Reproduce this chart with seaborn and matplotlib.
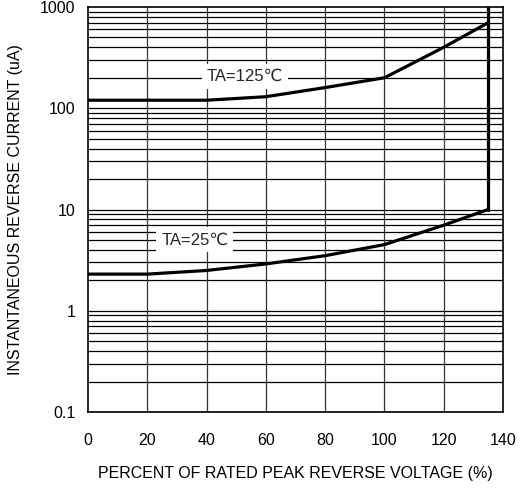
import numpy as np
import pandas as pd
import matplotlib
matplotlib.use('Agg')
import matplotlib.pyplot as plt
import seaborn as sns

# curve data
volt_pct = [0, 20, 40, 60, 80, 100, 120, 135]
i_125 = [120, 120, 120, 130, 160, 200, 400, 700]
i_25 = [2.3, 2.3, 2.5, 2.9, 3.5, 4.5, 7.0, 10]
limit_x = [135, 135]
limit_y = [10, 1000]

x_ticks = [0, 20, 40, 60, 80, 100, 120, 140]
y_ticks = [0.1, 1, 10, 100, 1000]
y_ticklabels = ['0.1', '1', '10', '100', '1000']

sns.set_theme(style='white')
plt.rcParams['font.family'] = ['Liberation Sans', 'DejaVu Sans']

df = pd.DataFrame({'pct': volt_pct * 2,
                   'current': i_125 + i_25,
                   'temp': ['125'] * len(volt_pct) + ['25'] * len(volt_pct)})

fig = plt.figure(figsize=(5.26, 4.9), dpi=100)
ax = fig.add_axes([88 / 526, 78 / 490, 415 / 526, 405 / 490])

sns.lineplot(data=df, x='pct', y='current', units='temp', estimator=None,
             color='black', linewidth=2.3, ax=ax, zorder=5)
sns.lineplot(x=limit_x, y=limit_y, sort=False, estimator=None,
             color='black', linewidth=2.3, ax=ax, zorder=5)

ax.set_yscale('log')
ax.set_xlim(0, 140)
ax.set_ylim(0.1, 1000)

# log grid: decades plus 2..9 subdivisions
for dec in [0.1, 1, 10, 100]:
    for m in range(1, 10):
        ax.axhline(dec * m, color='black', linewidth=0.9, zorder=1)
for xv in x_ticks[1:-1]:
    ax.axvline(xv, color='#333333', linewidth=0.9, zorder=1)

ax.set_xticks(x_ticks)
ax.set_yticks(y_ticks)
ax.set_yticklabels(y_ticklabels)
ax.yaxis.set_minor_locator(matplotlib.ticker.NullLocator())
ax.tick_params(axis='both', length=0, labelsize=11.5, colors='black')
ax.tick_params(axis='x', pad=15)
ax.tick_params(axis='y', pad=9)

for s in ax.spines.values():
    s.set_color('black')
    s.set_linewidth(1.2)

ax.set_xlabel('PERCENT OF RATED PEAK REVERSE VOLTAGE (%)', fontsize=11.5,
              labelpad=13, color='black')
ax.set_ylabel('INSTANTANEOUS REVERSE CURRENT (uA)', fontsize=11.5,
              labelpad=12, color='black')

box = dict(boxstyle='square,pad=0.3', fc='white', ec='none')
ax.text(53, 205, 'TA=125℃', fontsize=12, ha='center', va='center',
        bbox=box, zorder=3)
ax.text(36, 5.0, 'TA=25℃', fontsize=12, ha='center', va='center',
        bbox=box, zorder=3)

fig.savefig('out.png', dpi=100)
